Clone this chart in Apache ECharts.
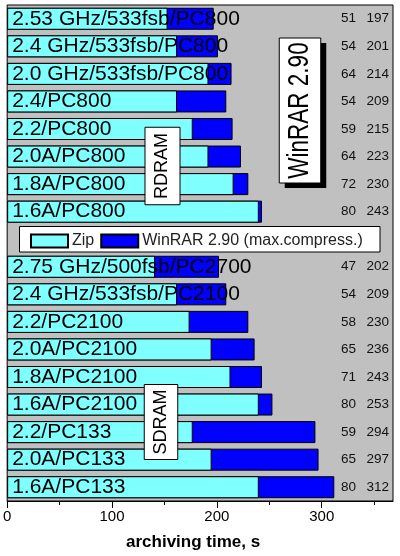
<!DOCTYPE html>
<html>
<head>
<meta charset="utf-8">
<script src="https://cdn.jsdelivr.net/npm/echarts@6/dist/echarts.min.js"></script>
<style>
  html, body { margin: 0; padding: 0; background: #fff; }
  #chart { width: 400px; height: 556px; }
</style>
</head>
<body>
<div id="chart"></div>
<script>
// rows top to bottom, '' is the slot the legend sits in
var categories = [
    '2.53 GHz/533fsb/PC800', '2.4 GHz/533fsb/PC800', '2.0 GHz/533fsb/PC800',
    '2.4/PC800', '2.2/PC800', '2.0A/PC800', '1.8A/PC800', '1.6A/PC800',
    '',
    '2.75 GHz/500fsb/PC2700', '2.4 GHz/533fsb/PC2100', '2.2/PC2100',
    '2.0A/PC2100', '1.8A/PC2100', '1.6A/PC2100',
    '2.2/PC133', '2.0A/PC133', '1.6A/PC133'
];
var zipTimes    = [51, 54, 64, 54, 59, 64, 72, 80, null, 47, 54, 58, 65, 71, 80, 59, 65, 80];
var winrarTimes = [197, 201, 214, 209, 215, 223, 230, 243, null, 202, 209, 230, 236, 243, 253, 294, 297, 312];
var zipScale = 3;   // zip bars are drawn at 3x their time
var majorTicks = [0, 100, 200, 300];
var minorTicks = [0, 50, 100, 150, 200, 250, 300, 350];

var FONT = "'Liberation Sans', Arial, sans-serif";

var zipBars = zipTimes.map(function(v){ return v == null ? null : v * zipScale; });

var chart = echarts.init(document.getElementById('chart'));

function box(cx, cy, w, h, text, size, sy, shadow) {
    var els = [];
    if (shadow) {
        els.push({ type: 'rect', z: 10, shape: { x: cx - w / 2 + 5.5, y: cy - h / 2 + 5, width: w, height: h },
            style: { fill: '#000' } });
    }
    els.push({ type: 'rect', z: 11, shape: { x: cx - w / 2, y: cy - h / 2, width: w, height: h },
        style: { fill: '#fff', stroke: '#000', lineWidth: 1 } });
    els.push({ type: 'text', z: 12, x: cx, y: cy, rotation: Math.PI / 2, scaleY: sy || 1,
        style: { text: text, fontSize: size, fontFamily: FONT, fill: '#000', align: 'center', verticalAlign: 'middle' } });
    return els;
}

var option = {
    backgroundColor: '#fff',
    animation: false,
    textStyle: { fontFamily: FONT },
    grid: {
        left: 4.5, top: 5, right: 7, bottom: 53,
        show: true, backgroundColor: '#c0c0c0', borderColor: '#000', borderWidth: 1
    },
    legend: {
        left: 30, top: 233, padding: 0,
        icon: 'rect',
        itemWidth: 37, itemHeight: 13, itemGap: 6,
        textStyle: { fontSize: 16, color: '#222', fontFamily: FONT, padding: [0, 0, 0, -1] },
        data: ['Zip', 'WinRAR 2.90 (max.compress.)']
    },
    xAxis: [
        {
            type: 'value', min: 0, max: 368,
            axisLine: { show: true, lineStyle: { color: '#000', width: 1 } },
            axisTick: { show: true, length: 4, customValues: minorTicks, lineStyle: { color: '#000' } },
            axisLabel: { show: false },
            splitLine: { show: false }
        },
        {
            type: 'value', min: 0, max: 368, position: 'bottom',
            axisLine: { show: false },
            axisTick: { show: true, length: 7, customValues: majorTicks, lineStyle: { color: '#000' } },
            axisLabel: { customValues: majorTicks, fontSize: 15, color: '#000', margin: 8, fontFamily: FONT },
            splitLine: { show: false },
            name: 'archiving time, s', nameLocation: 'middle', nameGap: 33,
            nameTextStyle: { fontSize: 17, fontWeight: 'bold', color: '#000', fontFamily: FONT, padding: [0, 14, 0, 0] }
        }
    ],
    yAxis: [
        {
            type: 'category', data: categories, inverse: true,
            axisLine: { show: false }, axisTick: { show: false }, axisLabel: { show: false }
        },
        {
            type: 'category', data: categories, inverse: true, position: 'right',
            axisLine: { show: false }, axisTick: { show: false },
            axisLabel: {
                inside: true, margin: 4,
                formatter: function(value, i) {
                    if (zipTimes[i] == null) return '';
                    return '{a|' + zipTimes[i] + '}{b|' + winrarTimes[i] + '}';
                },
                rich: {
                    a: { width: 20, align: 'right', fontSize: 13.5, color: '#111', fontFamily: FONT },
                    b: { width: 33, align: 'right', fontSize: 13.5, color: '#111', fontFamily: FONT }
                }
            }
        }
    ],
    series: [
        {
            name: 'WinRAR 2.90 (max.compress.)', type: 'bar',
            data: winrarTimes, barWidth: 22, barGap: '-100%',
            itemStyle: { color: '#0000ff', borderColor: '#000', borderWidth: 1 }
        },
        {
            name: 'Zip', type: 'bar',
            data: zipBars, barWidth: 22, barGap: '-100%',
            itemStyle: { color: '#80ffff', borderColor: '#000', borderWidth: 1 },
            label: {
                show: true, position: 'insideLeft', distance: 5,
                formatter: function(p){ return categories[p.dataIndex]; },
                fontSize: 21, color: '#000', fontFamily: FONT, textBorderWidth: 0
            }
        }
    ],
    graphic: [
        { type: 'rect', z: 3, shape: { x: 19.5, y: 226.5, width: 360.5, height: 25.5 },
          style: { fill: '#fff', stroke: '#000', lineWidth: 1 } }
    ].concat(
        box(300, 110.5, 41.5, 145, 'WinRAR 2.90', 22.5, 1.3, true),
        box(162.5, 166, 35, 77.5, 'RDRAM', 18),
        box(161, 422, 33.5, 75, 'SDRAM', 18)
    )
};

chart.setOption(option);
</script>
</body>
</html>
